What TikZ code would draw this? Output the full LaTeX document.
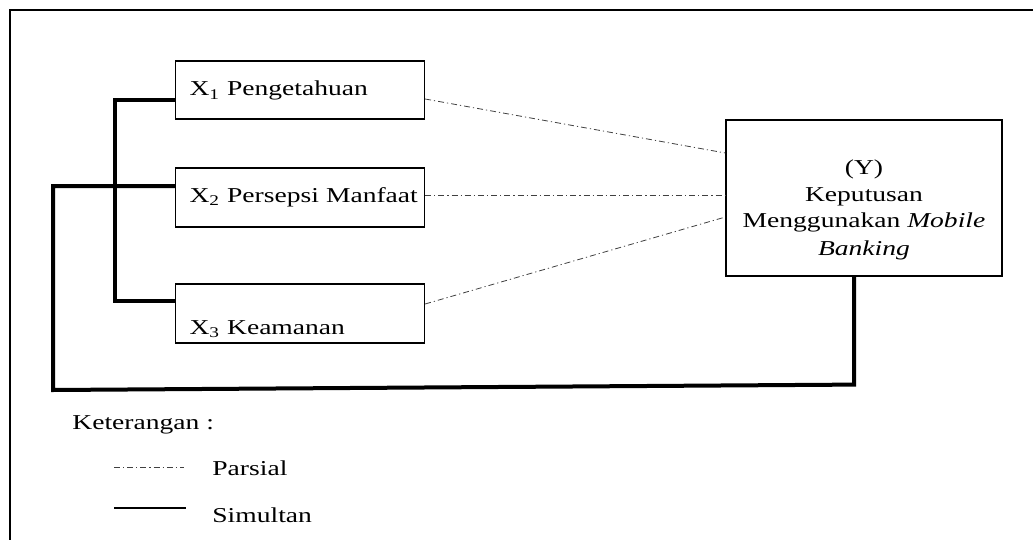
\documentclass[tikz,border=0pt]{standalone}
\usepackage{fontspec}
\setmainfont[FakeStretch=1.3]{Liberation Serif}
\begin{document}
\begin{tikzpicture}[x=0.5pt,y=-0.5pt,font=\fontsize{10.6}{13.5}\selectfont,
  xbox/.style={draw,line width=0.6pt,inner xsep=7pt,inner ysep=0pt,text width=110.5pt,align=left},
  ybox/.style={draw,line width=0.6pt,minimum width=138pt,inner ysep=0pt,align=center},
  legtext/.style={anchor=base west,inner sep=0pt},
  parsial/.style={line width=0.4pt,draw=black!75,dash pattern=on 3pt off 1.5pt on 0.6pt off 1.5pt},
  simultan/.style={line width=2pt}]

\useasboundingbox (0,0) rectangle (1033,540);
\draw[line width=1pt] (1033,10) -- (10,10) -- (10,540);

\node[xbox,text height=17.5pt,text depth=11.5pt] (X1) at (300,90) {X\textsubscript{1} Pengetahuan};
\node[xbox,text height=17pt,text depth=12.5pt] (X2) at (300,197.5) {\mbox{X\textsubscript{2} Persepsi Manfaat}};
\node[xbox,text height=25pt,text depth=4.5pt] (X3) at (300,313.5) {X\textsubscript{3} Keamanan};

\node[ybox,text height=67.5pt,text depth=10.5pt] (Y) at (864,198) {(Y)\\Keputusan\\Menggunakan \textit{Mobile}\\\textit{Banking}};

% parsial
\draw[parsial] ([yshift=-4.5pt]X1.east) -- ([yshift=22.5pt]Y.west);
\draw[parsial] ([yshift=1.25pt]X2.east) -- ([yshift=1.5pt]Y.west);
\draw[parsial] ([yshift=4.75pt]X3.east) -- ([yshift=-9.5pt]Y.west);

% simultan
\draw[simultan] ([yshift=-5pt]X1.west) -| (115,301) -- ([yshift=6.25pt]X3.west);
\draw[simultan] ([xshift=-5pt]Y.south) -- ++(0,108) -- (53,390) -- (53,186) -- ([yshift=5.75pt]X2.west);

% keterangan
\node[legtext] (ket) at (72,429) {Keterangan :};
\coordinate (pa) at (114,467);
\coordinate (pb) at (184,467);
\draw[parsial] (pa) -- (pb);
\node[legtext] (par) at (212,475) {Parsial};
\coordinate (sa) at (114,508);
\coordinate (sb) at (186,508);
\draw[simultan,line width=1.4pt] (sa) -- (sb);
\node[legtext] (sim) at (212,522) {Simultan};

\end{tikzpicture}
\end{document}
